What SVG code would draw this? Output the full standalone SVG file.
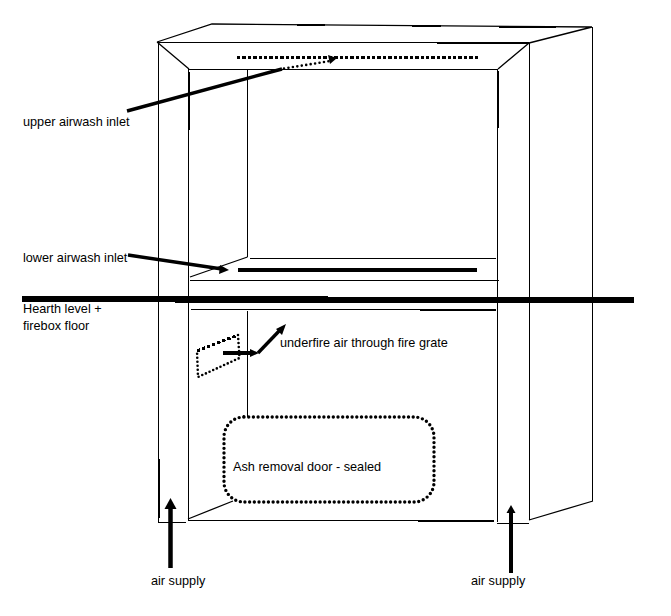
<svg xmlns="http://www.w3.org/2000/svg" width="671" height="616" viewBox="0 0 671 616">
<style>
.l{fill:none;stroke:#000;stroke-width:1.300}
.v{fill:none;stroke:#000;stroke-width:1;shape-rendering:crispEdges}
.t2{fill:none;stroke:#000;stroke-width:2;shape-rendering:crispEdges}
.a{fill:none;stroke:#000;stroke-width:3.400}
.h{fill:#000;stroke:none}
.c{fill:none;stroke:#000;stroke-width:3.400;stroke-linecap:round;stroke-dasharray:0 4.7}
.s{fill:none;stroke:#000;stroke-width:3;stroke-dasharray:3.400 2;shape-rendering:crispEdges}
text{font-family:"Liberation Sans",Arial,sans-serif;font-size:12.700px;fill:#000}
</style>
<rect width="671" height="616" fill="#fff"/>
<g id="firebox-casing">
<path class="l" d="M157 42L212 24L592 27L529 43M157 42L189 69M529 43L498 69M529 520L593 501M247.500 257L190 277M188 519L233 501"/>
<path class="v" d="M157 42.500H529M158.500 42V522.500H186M529.500 43V520M592.500 27V501M189 69.500H498M188.500 69V520M497.500 69V522M497 523.500H529M247.500 69V257M250 258.500H496M190 280.500H499M191 309.500H496M247.500 311V417M188 520.500H494"/>
<path class="t2" d="M189 72V130M498 71V128M159 459V518M420 310H496M418 521H494M437 43H529M297 25H325M412 26H441M499 27H556"/>
</g>
<g id="upper-dotted-inlet"><path class="s" d="M237 57H480"/></g>
<g id="lower-inlet-bar"><rect class="h" x="238" y="268" width="239" height="4"/></g>
<g id="hearth-level">
<rect class="h" x="22" y="296" width="306" height="6"/>
<rect class="h" x="175" y="297" width="459" height="6"/>
</g>
<g id="underfire-inlet">
<path class="s" d="M197 351L238 335"/>
<path class="c" style="stroke-width:2.600;stroke-dasharray:0 4" d="M238 335L239.500 358L198 377L197 351"/>
</g>
<g id="ash-door"><rect class="c" x="224" y="417" width="210" height="85" rx="20" ry="20"/></g>
<g id="connectors">
<path class="a" d="M127 111L282 69"/>
<path class="c" style="stroke-width:2.600;stroke-dasharray:0 4.500" d="M284 68.500L330 61"/>
<path class="h" d="M337 58L328 55L330 64Z"/>
<path class="a" d="M128 255L222 269"/>
<path class="h" d="M229 270L220 265L219 274Z"/>
<path style="fill:none;stroke:#000;stroke-width:4" d="M223 353H252"/>
<path class="h" d="M259 353L250 349V357Z"/>
<path class="a" d="M258 353L281 329"/>
<path class="h" d="M286 324L276 329L282 335Z"/>
<path style="fill:none;stroke:#000;stroke-width:4.500" d="M170.500 568V506"/>
<path class="h" d="M170.500 498L164.500 509H176.500Z"/>
<path style="fill:none;stroke:#000;stroke-width:4" d="M511 573V511"/>
<path class="h" d="M511 505L506.500 513H515.500Z"/>
</g>
<g id="labels">
<text x="23" y="126">upper airwash inlet</text>
<text x="23" y="262">lower airwash inlet</text>
<text x="23" y="313">Hearth level +</text>
<text x="23" y="330">firebox floor</text>
<text x="280" y="347">underfire air through fire grate</text>
<text x="233" y="471">Ash removal door - sealed</text>
<text x="151" y="585">air supply</text>
<text x="471" y="585">air supply</text>
</g>
</svg>
